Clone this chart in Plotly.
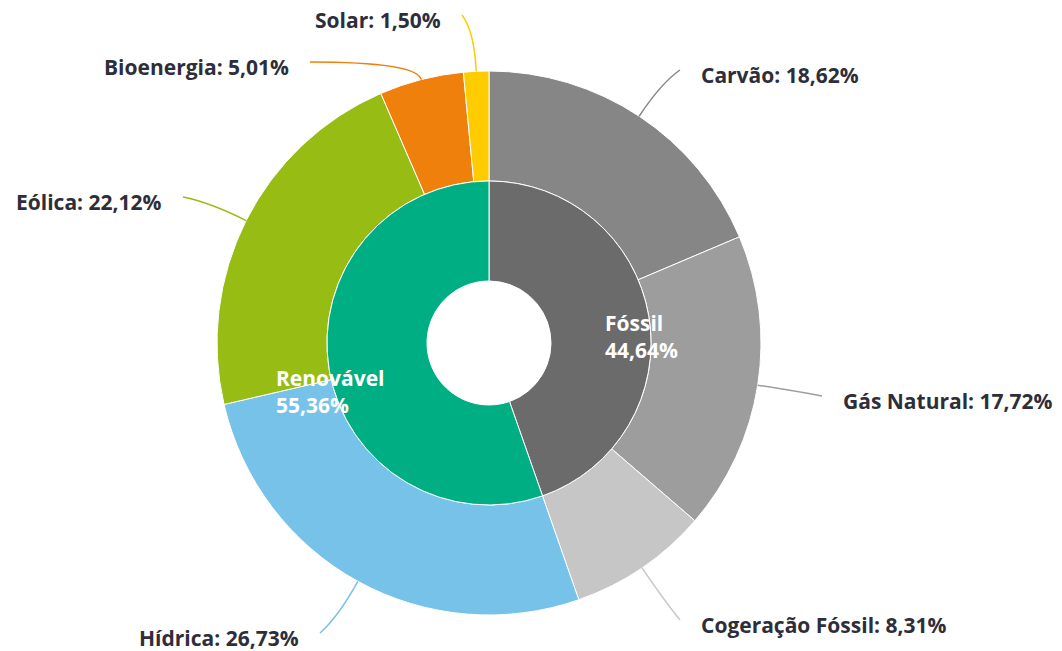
import math
import plotly.graph_objects as go

# data
inner_labels = ["Fóssil", "Renovável"]
inner_values = [44.64, 55.36]
inner_colors = ["#6b6b6b", "#00ae84"]

outer_labels = ["Carvão", "Gás Natural", "Cogeração Fóssil", "Hídrica", "Eólica", "Bioenergia", "Solar"]
outer_values = [18.62, 17.72, 8.31, 26.73, 22.12, 5.01, 1.50]
outer_colors = ["#868686", "#9d9d9d", "#c6c6c6", "#76c2e8", "#97bc14", "#ee800b", "#ffcc00"]

W, H = 1062, 651
OFF = 8                     # page body margin
CX, CY = 489, 343           # pie centre in screen pixels (from top)
R_OUT, R_MID, R_HOLE = 272, 162, 62

# connector end points (screen pixels)
label_ends = [(680, 70), (822, 396), (680, 620), (320, 633), (183, 197), (310, 62), (462, 15)]

def px(x):
    return (x - OFF) / W

def py(y):
    return 1 - (y - OFF) / H

def dom(r):
    return dict(x=[px(CX - r), px(CX + r)], y=[py(CY + r), py(CY - r)])

fig = go.Figure()
fig.add_trace(go.Pie(labels=outer_labels, values=outer_values, sort=False, direction="clockwise",
                     hole=R_MID / R_OUT, domain=dom(R_OUT), textinfo="none",
                     marker=dict(colors=outer_colors, line=dict(color="white", width=1)),
                     showlegend=False))
fig.add_trace(go.Pie(labels=inner_labels, values=inner_values, sort=False, direction="clockwise",
                     hole=R_HOLE / R_MID, domain=dom(R_MID), textinfo="none",
                     marker=dict(colors=inner_colors, line=dict(color="white", width=1)),
                     showlegend=False))

font = dict(family="Open Sans", size=21, color="#2e2e3a", weight=700)

total = sum(outer_values)
cum = 0
for lab, val, col, (ex, ey) in zip(outer_labels, outer_values, outer_colors, label_ends):
    mid = (cum + val / 2) / total * 2 * math.pi
    cum += val
    dx, dy = math.sin(mid), -math.cos(mid)
    x0, y0 = CX + R_OUT * dx, CY + R_OUT * dy
    t = 40
    if dy != 0 and (ey - y0) / dy > 0:
        t = min(t, (ey - y0) / dy)
    cx, cy = x0 + dx * t, y0 + dy * t
    path = f"M {px(x0)},{py(y0)} Q {px(cx)},{py(cy)} {px(ex)},{py(ey)}"
    fig.add_shape(type="path", path=path, xref="paper", yref="paper",
                  line=dict(color=col, width=1.5))
    right = ex > CX
    txt = f"{lab}: {val:.2f}%".replace(".", ",")
    fig.add_annotation(x=px(ex + (20 if right else -20)), y=py(ey + 5), xref="paper", yref="paper",
                       text=txt, showarrow=False, xanchor="left" if right else "right",
                       yanchor="middle", font=font, borderpad=0)

inner_pos = [(603, 336), (274, 391)]
for lab, val, (x, y) in zip(inner_labels, inner_values, inner_pos):
    txt = f"{lab}<br>{val:.2f}%".replace(".", ",")
    fig.add_annotation(x=px(x), y=py(y), xref="paper", yref="paper", text=txt, showarrow=False,
                       xanchor="left", yanchor="middle", align="left",
                       font=dict(family="Open Sans", size=21, color="white", weight=700))

fig.update_layout(width=W, height=H, margin=dict(l=0, r=0, t=0, b=0),
                  paper_bgcolor="white", plot_bgcolor="white")
fig.write_html("out.html")
